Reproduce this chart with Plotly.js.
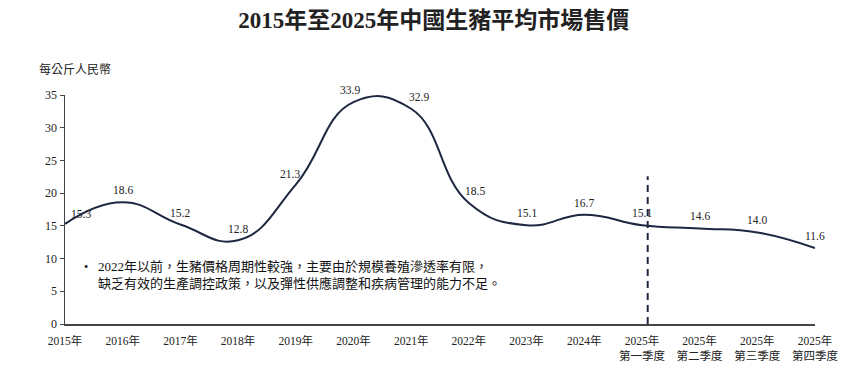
<!DOCTYPE html>
<html>
<head>
<meta charset="utf-8">
<script src="https://cdn.plot.ly/plotly-3.0.1.min.js"></script>
<style>html,body{margin:0;padding:0;background:#fff;}#chart{width:842px;height:367px;}</style>
</head>
<body>
<div id="chart"></div>
<script>
const categories = ["2015年","2016年","2017年","2018年","2019年","2020年","2021年","2022年","2023年","2024年","2025年<br>第一季度","2025年<br>第二季度","2025年<br>第三季度","2025年<br>第四季度"];
const prices = [15.3, 18.6, 15.2, 12.8, 21.3, 33.9, 32.9, 18.5, 15.1, 16.7, 15.1, 14.6, 14.0, 11.6];
const yTicks = [0, 5, 10, 15, 20, 25, 30, 35];
const noteLines = ["2022年以前，生豬價格周期性較強，主要由於規模養殖滲透率有限，", "缺乏有效的生產調控政策，以及彈性供應調整和疾病管理的能力不足。"];

const FONT = '"Liberation Serif", "Noto Sans CJK TC", serif';
const xs = categories.map((c, i) => i);
const labelShift = [[16, 10], [0, 12], [0, 12], [0, 11], [-6, 11], [-3, 12], [8, 12], [6, 12], [0, 12], [0, 12], [0, 12], [0, 12], [0, 12], [0, 12]];

const trace = {
  x: xs, y: prices, type: 'scatter', mode: 'lines',
  line: {color: '#1d2740', width: 2, shape: 'spline', smoothing: 1.3},
  hoverinfo: 'skip', showlegend: false
};

const annotations = prices.map((v, i) => ({
  x: i, y: v, xref: 'x', yref: 'y', text: v.toFixed(1), showarrow: false,
  xshift: labelShift[i][0], yshift: labelShift[i][1],
  font: {family: FONT, size: 11.5, color: '#222'}
}));
annotations.push({
  xref: 'paper', yref: 'paper', x: -0.038, y: 1.11, xanchor: 'left', yanchor: 'middle',
  text: '每公斤人民幣', showarrow: false, font: {family: FONT, size: 12, color: '#222'}
});
annotations.push({
  xref: 'paper', yref: 'paper', x: 0.022, y: 0.248, xanchor: 'left', yanchor: 'middle',
  text: '•', showarrow: false, font: {family: FONT, size: 12, color: '#111'}
});
annotations.push({
  xref: 'paper', yref: 'paper', x: 0.041, y: 0.214, xanchor: 'left', yanchor: 'middle', align: 'left',
  text: noteLines[0] + '<br>' + noteLines[1], showarrow: false,
  font: {family: FONT, size: 13, color: '#111'}
});

const layout = {
  width: 842, height: 367,
  margin: {l: 65, r: 27, t: 95, b: 43},
  paper_bgcolor: '#fff', plot_bgcolor: '#fff',
  title: {text: '<b>2015年至2025年中國生豬平均市場售價</b>', x: 0.515, xanchor: 'center', y: 0.945, yanchor: 'middle',
    font: {family: FONT, size: 23, color: '#222'}},
  xaxis: {
    range: [0, 13], tickmode: 'array', tickvals: xs, ticktext: categories,
    showgrid: false, zeroline: false, showline: true, linecolor: '#444', linewidth: 1.5,
    ticks: '', ticklabelstandoff: 6, tickfont: {family: FONT, size: 11.5, color: '#222'}, fixedrange: true
  },
  yaxis: {
    range: [0, 35], tickmode: 'array', tickvals: yTicks,
    showgrid: false, zeroline: false, showline: true, linecolor: '#444', linewidth: 1.5,
    ticks: 'outside', ticklen: 4, tickcolor: '#444',
    tickfont: {family: FONT, size: 12, color: '#222'}, fixedrange: true
  },
  shapes: [{
    type: 'line', xref: 'x', yref: 'y', x0: 10.1, x1: 10.1, y0: 0, y1: 22.6,
    line: {color: '#1d2740', width: 2, dash: '7px,5px'}, layer: 'above'
  }],
  annotations: annotations
};

Plotly.newPlot('chart', [trace], layout, {displayModeBar: false, staticPlot: true});
</script>
</body>
</html>
